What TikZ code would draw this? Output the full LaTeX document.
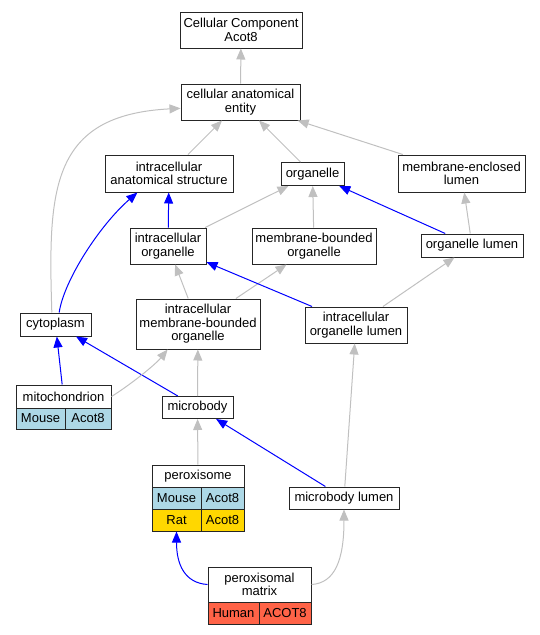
\documentclass[tikz,border=0pt]{standalone}
\usepackage{fontspec}
\setmainfont{Liberation Sans}
\usetikzlibrary{arrows.meta}

\definecolor{mouse}{RGB}{173,216,230}
\definecolor{rat}{RGB}{255,215,0}
\definecolor{human}{RGB}{255,99,71}
\definecolor{isagray}{RGB}{192,192,192}

\tikzset{
	term/.style={draw=black!85, line width=1pt, fill=white, align=center, inner xsep=2pt, inner ysep=2pt, minimum height=23pt, font=\fontsize{13}{13.4}\selectfont},
	cell/.style={term, minimum height=22pt},
	isa/.style={draw=isagray, line width=1pt, -{Triangle[length=11pt,width=9pt]}},
	partof/.style={isa, draw=blue}
}

\begin{document}
\begin{tikzpicture}[x=1pt, y=-1pt]
\useasboundingbox (0, 0) rectangle (540, 635);

\node[term, minimum width=122pt, minimum height=36pt] (cca) at (241, 30) {Cellular Component\\Acot8};
\node[term, minimum width=119pt, minimum height=36pt] (cae) at (240.5, 102) {cellular anatomical\\entity};
\node[term, minimum width=128pt, minimum height=37pt] (ias) at (169, 173.5) {intracellular\\anatomical structure};
\node[term, minimum width=63pt] (org) at (312.5, 174) {organelle};
\node[term, minimum width=127pt, minimum height=37pt] (mel) at (461.5, 173.5) {membrane-enclosed\\lumen};
\node[term, minimum width=76pt, minimum height=36pt] (io) at (168, 246) {intracellular\\organelle};
\node[term, minimum width=124pt, minimum height=36pt] (mbo) at (314, 246) {membrane-bounded\\organelle};
\node[term, minimum width=102pt] (ol) at (472, 245.5) {organelle lumen};
\node[term, minimum width=71pt] (cyt) at (55.5, 324.5) {cytoplasm};
\node[term, minimum width=124pt, minimum height=50pt] (imbo) at (198, 324) {intracellular\\membrane-bounded\\organelle};
\node[term, minimum width=102pt, minimum height=36pt] (iol) at (356, 325) {intracellular\\organelle lumen};
\node[term, minimum width=71pt, minimum height=22pt] (mb) at (197.5, 407.5) {microbody};
\node[term, minimum width=110pt, minimum height=22pt] (mbl) at (344, 498) {microbody lumen};

% annotated terms
\node[term, minimum width=95pt] (mito) at (63.5, 396.5) {mitochondrion};
\node[cell, fill=mouse, minimum width=49pt, minimum height=21pt] (mitoM) at (40.5, 418.5) {Mouse};
\node[cell, fill=mouse, minimum width=46pt, minimum height=21pt] (mitoMg) at (88, 418.5) {Acot8};

\node[term, minimum width=92pt, minimum height=22pt] (perox) at (198, 476) {peroxisome};
\node[cell, fill=mouse, minimum width=49pt] (peroxM) at (176.5, 498) {Mouse};
\node[cell, fill=mouse, minimum width=43pt] (peroxMg) at (222.5, 498) {Acot8};
\node[cell, fill=rat, minimum width=49pt] (peroxR) at (176.5, 520) {Rat};
\node[cell, fill=rat, minimum width=43pt] (peroxRg) at (222.5, 520) {Acot8};

\node[term, minimum width=103pt, minimum height=35pt] (pm) at (259.5, 584.5) {peroxisomal\\matrix};
\node[cell, fill=human, minimum width=51pt] (pmH) at (233.5, 613) {Human};
\node[cell, fill=human, minimum width=52pt] (pmHg) at (285, 613) {ACOT8};

\foreach \a/\b in {cae/cca, ias/cae, org/cae, mel/cae, io/org, mbo/org, ol/mel, imbo/io, imbo/mbo, iol/ol, mb/imbo, perox/mb, mbl/iol}
	\draw[isa] (\a) -- (\b);

\foreach \a/\b in {io/ias, ol/org, iol/io, mito/cyt, mb/cyt, mbl/mb}
	\draw[partof] (\a) -- (\b);

\draw[isa] (cyt.107) .. controls (48, 190) and (50, 115) .. (cae.186);
\draw[partof] (cyt.73) .. controls (64, 280) and (100, 225) .. (ias.211);
\draw[isa] (mito.east) .. controls (130, 385) and (155, 365) .. (imbo.220);
\draw[partof] (pm.west) .. controls (185, 583) and (176.5, 565) .. (peroxR.south);
\draw[isa] (pm.east) .. controls (335, 583) and (344, 560) .. (mbl.south);
\end{tikzpicture}
\end{document}
